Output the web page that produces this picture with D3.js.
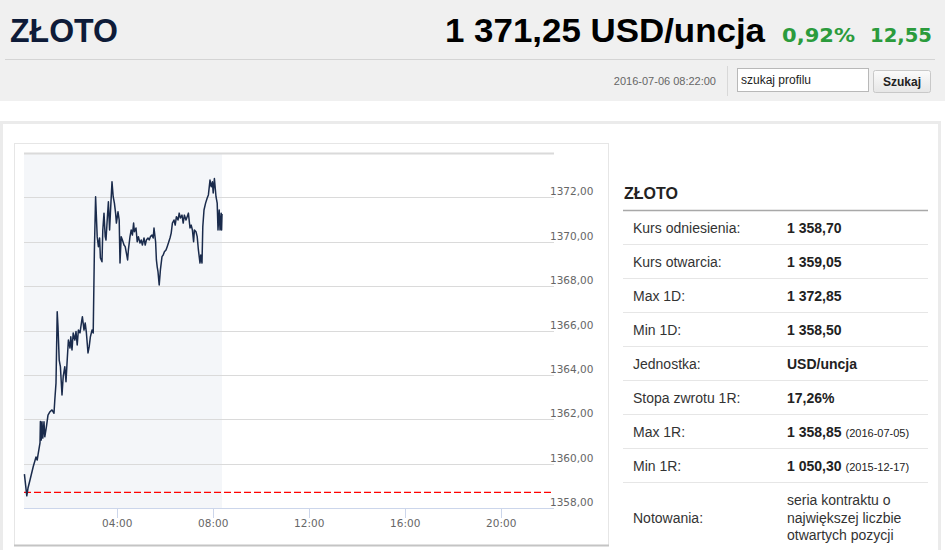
<!DOCTYPE html>
<html>
<head>
<meta charset="utf-8">
<script src="https://cdn.jsdelivr.net/npm/d3@7/dist/d3.min.js"></script>
<style>
  html, body { margin: 0; padding: 0; background: #fff; }
  svg { display: block; }
</style>
</head>
<body>
<svg id="page" width="945" height="550"></svg>
<script>
// ---------- DATA ----------
const instrumentName = "ZŁOTO";
const lastPrice = "1 371,25 USD/uncja";
const changePct = "0,92%";
const changeAbs = "12,55";
const quoteTime = "2016-07-06 08:22:00";
const searchPlaceholder = "szukaj profilu";
const searchButton = "Szukaj";

// minutes since midnight (2016-07-06) and price in USD/uncja
const minutes = [8,14,17,22,30,37,40,42,47,48,50,52,54,57,59,63,67,72,77,82,84,87,90,92,95,98,102,105,109,112,115,118,122,124,127,130,134,137,140,143,147,151,153,157,160,163,167,170,173,177,180,183,186,190,193,196,198,202,204,207,210,212,215,218,221,223,227,230,233,236,238,242,245,247,250,253,257,260,263,266,268,272,275,278,281,283,287,290,293,297,300,303,307,310,313,317,320,323,327,330,332,336,338,340,342,345,348,352,355,358,362,365,368,372,375,378,382,385,388,392,395,398,402,405,408,412,415,418,422,425,428,431,433,437,440,443,447,449,452,454,457,461,465,468,472,475,478,480,483,487,490,492,495,497,500,501,502];
const prices = [1359.53,1358.55,1358.90,1359.26,1359.86,1360.30,1360.16,1360.39,1360.93,1361.90,1361.06,1361.89,1361.15,1361.89,1361.21,1361.66,1362.19,1362.34,1362.42,1362.27,1362.87,1363.63,1366.85,1366.17,1364.67,1364.37,1363.09,1363.92,1364.37,1363.69,1364.67,1365.57,1365.21,1365.72,1365.12,1365.89,1365.57,1365.95,1365.35,1366.02,1365.89,1366.40,1366.62,1366.02,1366.34,1365.89,1364.99,1365.27,1365.72,1366.02,1365.89,1369.63,1372.03,1370.23,1369.78,1370.17,1369.27,1369.10,1370.53,1371.29,1370.23,1370.08,1370.98,1371.80,1370.53,1371.29,1372.70,1372.03,1371.74,1371.29,1370.84,1371.35,1370.98,1369.04,1370.23,1370.08,1369.85,1369.78,1369.49,1369.18,1369.63,1370.23,1370.53,1370.30,1370.84,1370.45,1370.62,1370.00,1370.23,1369.94,1370.08,1369.85,1370.17,1369.85,1370.08,1370.17,1370.08,1370.23,1370.30,1370.17,1370.62,1370.00,1369.18,1368.87,1368.65,1368.05,1368.73,1369.33,1369.40,1369.55,1369.63,1369.78,1369.94,1370.17,1370.39,1370.84,1370.98,1370.75,1371.13,1370.98,1371.29,1371.07,1371.20,1370.84,1371.20,1370.98,1371.13,1371.29,1370.62,1370.75,1370.53,1370.00,1370.53,1370.45,1370.23,1369.63,1369.04,1369.40,1369.04,1370.68,1371.43,1371.74,1371.97,1372.11,1372.78,1372.48,1372.70,1372.20,1372.85,1372.03,1371.74,1370.53,1371.43,1370.53,1371.29,1370.53,1371.25];

const referencePrice = 1358.70;          // red dashed line (Kurs odniesienia)
const sessionStartMin = 7;               // x-axis domain start (00:07)
const sessionEndMin = 1332;              // x-axis domain end (22:12)
const elapsedUntilMin = 502;             // shaded band until 08:22
const yTicks = [1358,1360,1362,1364,1366,1368,1370,1372,1374];
const xTickHours = [4,8,12,16,20];

const tableLabels = ["Kurs odniesienia:","Kurs otwarcia:","Max 1D:","Min 1D:","Jednostka:","Stopa zwrotu 1R:","Max 1R:","Min 1R:","Notowania:"];
const tableValues = ["1 358,70","1 359,05","1 372,85","1 358,50","USD/uncja","17,26%","1 358,85","1 050,30",""];
const tableDates  = ["","","","","","","(2016-07-05)","(2015-12-17)",""];
const notowaniaLines = ["seria kontraktu o","największej liczbie","otwartych pozycji"];

// ---------- DRAW ----------
const svg = d3.select("#page");
const SANS = "'Liberation Sans', Arial, sans-serif";
const VSANS = "'DejaVu Sans', Verdana, sans-serif";

// header background
svg.append("rect").attr("x",0).attr("y",0).attr("width",945).attr("height",101).attr("fill","#f0f0f0");
svg.append("text").attr("x",10).attr("y",42).attr("font-family",SANS).attr("font-weight","bold")
  .attr("font-size",33).attr("fill","#0e1b38").attr("textLength",108).attr("lengthAdjust","spacingAndGlyphs").text(instrumentName);
svg.append("text").attr("x",445).attr("y",42).attr("font-family",SANS).attr("font-weight","bold")
  .attr("font-size",33).attr("fill","#000").attr("textLength",320).attr("lengthAdjust","spacingAndGlyphs").text(lastPrice);
svg.append("text").attr("x",782).attr("y",42).attr("font-family",VSANS).attr("font-weight","bold")
  .attr("font-size",19).attr("fill","#2b9b3c").attr("textLength",73).attr("lengthAdjust","spacingAndGlyphs").text(changePct);
svg.append("text").attr("x",870).attr("y",42).attr("font-family",VSANS).attr("font-weight","bold")
  .attr("font-size",19).attr("fill","#2b9b3c").attr("textLength",62).attr("lengthAdjust","spacingAndGlyphs").text(changeAbs);
svg.append("line").attr("x1",5).attr("x2",935).attr("y1",59.5).attr("y2",59.5).attr("stroke","#d4d4d4");
svg.append("text").attr("x",716).attr("y",85).attr("text-anchor","end").attr("font-family",SANS)
  .attr("font-size",11).attr("fill","#666").text(quoteTime);
svg.append("line").attr("x1",727.5).attr("x2",727.5).attr("y1",66).attr("y2",96).attr("stroke","#d8d8d8");
svg.append("rect").attr("x",737.5).attr("y",68.5).attr("width",131).attr("height",23)
  .attr("fill","#fff").attr("stroke","#b8b8b8");
svg.append("text").attr("x",741).attr("y",84).attr("font-family",SANS).attr("font-size",12)
  .attr("fill","#222").text(searchPlaceholder);
const grad = svg.append("defs").append("linearGradient").attr("id","btn").attr("x1",0).attr("x2",0).attr("y1",0).attr("y2",1);
grad.append("stop").attr("offset","0%").attr("stop-color","#fbfbfb");
grad.append("stop").attr("offset","100%").attr("stop-color","#e6e6e6");
svg.append("rect").attr("x",873.5).attr("y",70.5).attr("width",57).attr("height",22).attr("rx",2)
  .attr("fill","url(#btn)").attr("stroke","#c8c8c8");
svg.append("text").attr("x",902).attr("y",86).attr("text-anchor","middle").attr("font-family",SANS)
  .attr("font-weight","bold").attr("font-size",12).attr("fill","#222").text(searchButton);

// outer container and chart panel
svg.append("rect").attr("x",1.5).attr("y",122.5).attr("width",938).attr("height",500)
  .attr("fill","none").attr("stroke","#ebebeb").attr("stroke-width",3);
svg.append("rect").attr("x",14.5).attr("y",143.5).attr("width",594).attr("height",402)
  .attr("fill","#fff").attr("stroke","#e6e6e6");
svg.append("line").attr("x1",14).attr("x2",609).attr("y1",545.5).attr("y2",545.5).attr("stroke","#c4c4c4").attr("stroke-width",2);

// chart
const day = m => new Date(Date.UTC(2016,6,6,0,m));
const data = minutes.map((m,i) => ({t: day(m), v: prices[i]}));
const x = d3.scaleUtc().domain([day(sessionStartMin), day(sessionEndMin)]).range([24,554]);
const y = d3.scaleLinear().domain([1358,1374]).range([508,153]);

const g = svg.append("g");
// elapsed band
g.append("rect").attr("x",x(day(sessionStartMin))).attr("y",y(1374))
  .attr("width",x(day(elapsedUntilMin))-x(day(sessionStartMin))).attr("height",y(1358)-y(1374))
  .attr("fill","#f4f6f9");

// gridlines
g.selectAll("line.grid").data(yTicks.filter(d=>d>1358)).join("line").attr("class","grid")
  .attr("x1",24).attr("x2",554).attr("y1",d=>Math.round(y(d))+0.5).attr("y2",d=>Math.round(y(d))+0.5)
  .attr("stroke","#dadada").attr("stroke-width",d=>d===1374?2:1);

// y labels
g.selectAll("text.ylab").data(yTicks.filter(d=>d<1374)).join("text").attr("class","ylab")
  .attr("x",550).attr("y",d=>y(d)-2).attr("font-family",VSANS).attr("font-size",10.5).attr("fill","#666")
  .text(d=>d3.format(".2f")(d).replace(".",","));

// x axis
g.append("line").attr("x1",24).attr("x2",554).attr("y1",508.5).attr("y2",508.5).attr("stroke","#ccd6eb");
const xt = xTickHours.map(h => day(h*60));
g.selectAll("line.xt").data(xt).join("line").attr("class","xt")
  .attr("x1",d=>Math.round(x(d))+0.5).attr("x2",d=>Math.round(x(d))+0.5).attr("y1",508).attr("y2",518)
  .attr("stroke","#ccd6eb");
g.selectAll("text.xl").data(xt).join("text").attr("class","xl")
  .attr("x",d=>x(d)).attr("y",527).attr("text-anchor","middle").attr("font-family",VSANS)
  .attr("font-size",10.5).attr("fill","#666").text(d=>d3.utcFormat("%H:%M")(d));

// reference line
g.append("line").attr("x1",24).attr("x2",554).attr("y1",y(referencePrice)).attr("y2",y(referencePrice))
  .attr("stroke","#ff0000").attr("stroke-width",1.2).attr("stroke-dasharray","7,3");

// price line
g.append("path").datum(data).attr("fill","none").attr("stroke","#1a2b4c").attr("stroke-width",1.5)
  .attr("stroke-linejoin","round")
  .attr("d", d3.line().x(d=>x(d.t)).y(d=>y(d.v)));

// right table
const T = svg.append("g");
T.append("text").attr("x",624).attr("y",199).attr("font-family",SANS).attr("font-weight","bold")
  .attr("font-size",16).attr("fill","#222").text(instrumentName);
T.append("line").attr("x1",623).attr("x2",928).attr("y1",210.5).attr("y2",210.5).attr("stroke","#a8a8a8").attr("stroke-width",1.5);
const rowH = 34, row0 = 228;
tableLabels.forEach((lab,i) => {
  const cy = i < 8 ? row0 + i*rowH : 518;
  T.append("text").attr("x",633).attr("y",cy+5).attr("font-family",SANS).attr("font-size",14)
    .attr("fill","#333").text(lab);
  if (tableValues[i]) {
    const t = T.append("text").attr("x",787).attr("y",cy+5).attr("font-family",SANS).attr("fill","#222");
    t.append("tspan").attr("font-weight","bold").attr("font-size",14).text(tableValues[i]);
    if (tableDates[i]) t.append("tspan").attr("font-size",11).attr("dx",4).text(tableDates[i]);
  }
  if (i < 8) {
    T.append("line").attr("x1",623).attr("x2",928).attr("y1",cy+16.5).attr("y2",cy+16.5).attr("stroke","#e6e6e6");
  }
});
notowaniaLines.forEach((s,k) => {
  T.append("text").attr("x",787).attr("y",505+k*17.5).attr("font-family",SANS).attr("font-size",14)
    .attr("fill","#333").text(s);
});
</script>
</body>
</html>
